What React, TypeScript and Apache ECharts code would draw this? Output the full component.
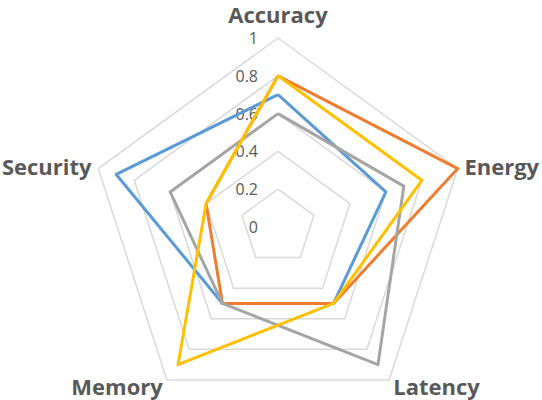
import React, { useEffect, useRef } from 'react';
import * as echarts from 'echarts';

// ECharts lays radar indicators out counter-clockwise from the top,
// so the list runs Accuracy -> Security -> Memory -> Latency -> Energy
const indicators = ['Accuracy', 'Security', 'Memory', 'Latency', 'Energy'];
const seriesNames = ['Series 1', 'Series 2', 'Series 3', 'Series 4'];
const seriesColors = ['#5B9BD5', '#ED7D31', '#A5A5A5', '#FFC000'];

const blueValues = [0.7, 0.9, 0.5, 0.5, 0.6];
const orangeValues = [0.8, 0.4, 0.5, 0.5, 1.0];
const grayValues = [0.6, 0.6, 0.5, 0.9, 0.7];
const yellowValues = [0.8, 0.4, 0.9, 0.5, 0.8];

const allValues = [blueValues, orangeValues, grayValues, yellowValues];

const App: React.FC = () => {
  const chartRef = useRef<HTMLDivElement>(null);

  useEffect(() => {
    if (!chartRef.current) return;
    const chart = echarts.init(chartRef.current, undefined, { renderer: 'svg' });

    const option: echarts.EChartsOption = {
      animation: false,
      backgroundColor: '#FFFFFF',
      radar: {
        center: [278, 227],
        radius: 189,
        startAngle: 90,
        shape: 'polygon',
        splitNumber: 5,
        nameGap: 7,
        axisName: {
          color: '#595959',
          fontFamily: 'Open Sans',
          fontWeight: 'bold',
          fontSize: 22,
          lineHeight: 23
        },
        axisLine: { show: false },
        axisTick: { show: false },
        splitArea: { show: false },
        splitLine: { lineStyle: { color: '#D9D9D9', width: 1.5 } },
        axisLabel: { show: false },
        indicator: indicators.map((name, i) => ({
          name,
          min: 0,
          max: 1,
          ...(i === 0
            ? {
                nameGap: 13,
                axisLabel: {
                  show: true,
                  color: '#595959',
                  fontFamily: 'Open Sans',
                  fontSize: 16,
                  margin: 20,
                  formatter: (v: number) => String(Math.round(v * 10) / 10)
                }
              }
            : {})
        }))
      },
      series: [
        {
          type: 'radar',
          symbol: 'none',
          data: allValues.map((values, idx) => ({
            name: seriesNames[idx],
            value: values,
            lineStyle: { color: seriesColors[idx], width: 3 },
            itemStyle: { color: seriesColors[idx] }
          }))
        }
      ]
    };

    chart.setOption(option);

    return () => {
      chart.dispose();
    };
  }, []);

  return (
    <div
      ref={chartRef}
      style={{ position: 'fixed', left: 0, top: 0, width: '542px', height: '400px' }}
    />
  );
};

export default App;
